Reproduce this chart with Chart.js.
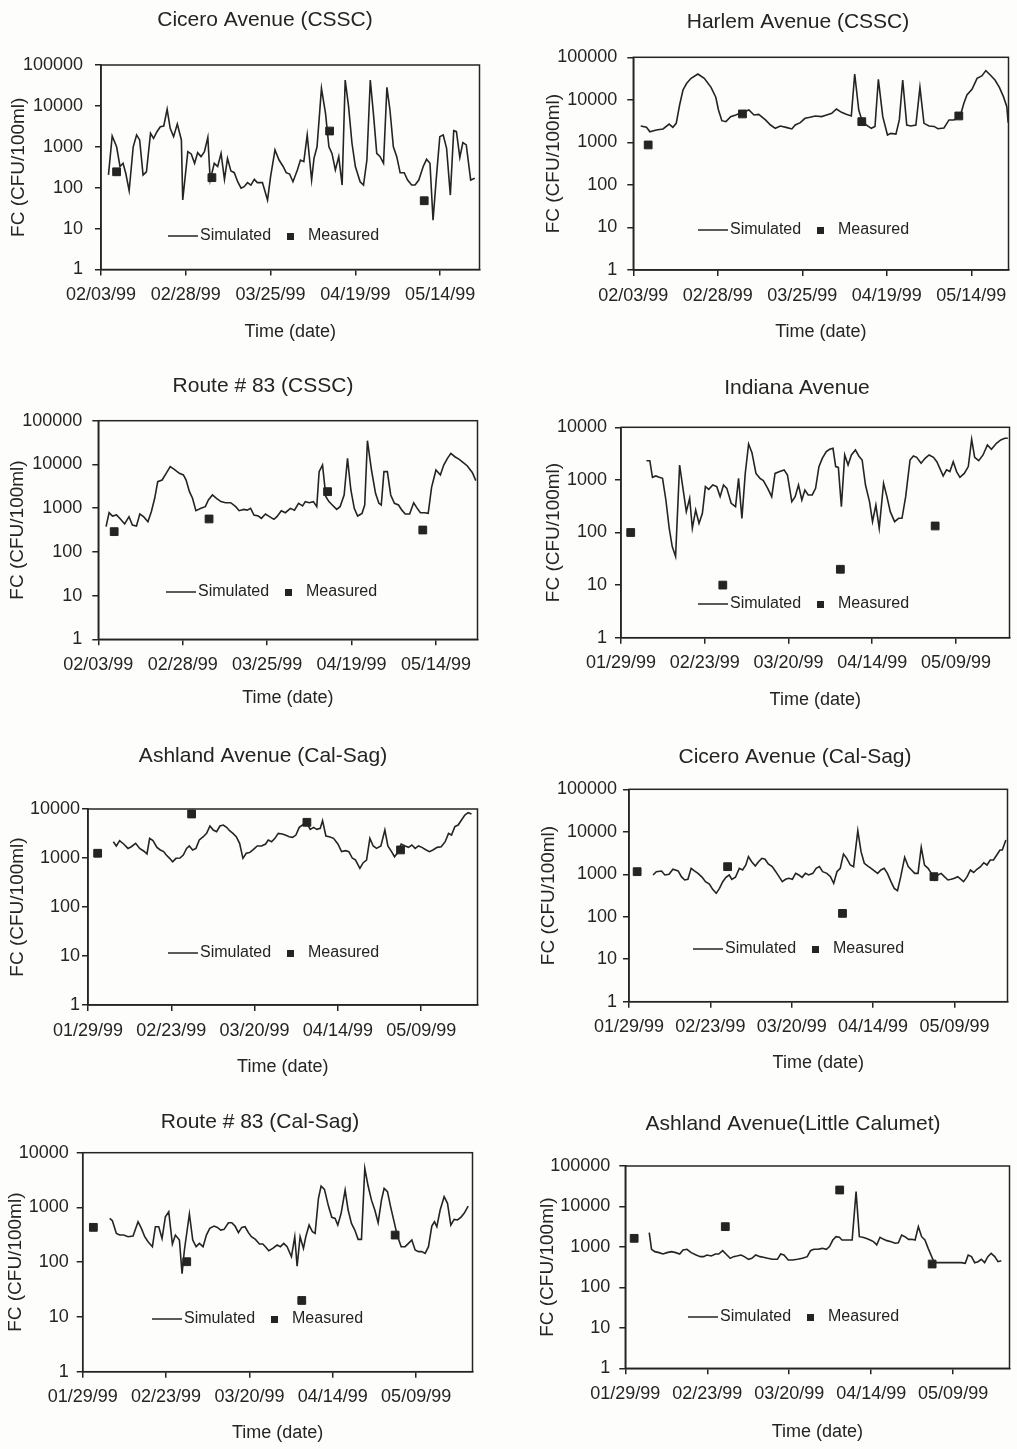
<!DOCTYPE html>
<html>
<head>
<meta charset="utf-8">
<script src="https://cdn.jsdelivr.net/npm/chart.js@4/dist/chart.umd.min.js"></script>
<style>
html, body { margin: 0; padding: 0; background: #fdfdfb; overflow: hidden; }
#page { position: relative; width: 1017px; height: 1449px; }
canvas { position: absolute; }
</style>
</head>
<body>
<div id="page"></div>
<script>
// tick labels
const cssc_ticks = ['02/03/99', '02/28/99', '03/25/99', '04/19/99', '05/14/99'];
const cal_ticks = ['01/29/99', '02/23/99', '03/20/99', '04/14/99', '05/09/99'];
const tick_days = [0, 25, 50, 75, 100];
const y_ticks = [1, 10, 100, 1000, 10000, 100000];

// Cicero Avenue (CSSC)
const sim_days1 = [2.2,3.3,4.6,5.6,6.5,7.3,8.3,9.5,10.5,11.4, 12.4,13.4,14.6,15.5,16.5,17.5,18.5,19.5,20.4,21.4,
  22.5,23.7,24.1,25.6,26.6,27.6,28.5,29.5,30.5,31.5, 32.2,33.4,34.4,35.4,36.4,37.3,38.3,39.3,40.3,41.3,
  42.2,43.2,44.2,45.2,46.1,47.6,49.1,50.0,51.3,52.5, 53.7,54.6,55.6,56.6,57.9,58.8,59.8,60.8,62.1,62.8,
  63.7,65.0,66.2,67.2,68.1,69.1,70.1,71.1,72.0,73.0, 74.0,75.0,76.4,77.4,78.4,79.4,80.4,81.3,82.3,83.3,
  84.3,85.2,86.2,87.2,88.2,89.4,90.4,91.6,92.6,93.7, 95.0,96.0,97.0,97.9,98.9,99.9,100.9,101.9,103.0,104.0,
  104.8,105.8,106.7,107.7,109.0,110.2];
const sim1 = [205,1840,1000,330,395,225,85,1000,1950,1470, 205,245,2140,1610,2340,3100,3230,8250,2830,1770,
  3600,1470,50,760,670,395,720,575,760,1700, 154,395,330,690,160,520,256,233,140,97,
  106,133,116,160,133,133,50,186,835,475, 330,233,216,140,271,475,433,1950,154,520,
  1000,26900,6580,1000,690,271,575,116,43000,9570, 1220,330,140,116,475,43000,5460,690,575,395,
  28400,7940,1000,575,233,233,154,116,116,154, 330,494,395,16,186,1770,1950,918,66,2480,
  2340,552,1260,1110,154,170];
const meas_days1 = [4.6, 32.7, 67.4, 95.3];
const meas1 = [245, 176, 2430, 48];

// Harlem Avenue (CSSC)
const sim_days2 = [2.2,3.9,4.9,6.8,8.8,10.6,11.7,12.7,13.7,14.7, 15.8,17.1,19.1,21.0,23.0,24.4,25.2,26.2,27.4,28.8,
  30.3,32.3,34.2,35.7,37.1,39.1,40.6,42.0,43.5,45.5, 46.9,47.9,49.4,50.8,52.3,53.8,55.7,57.2,58.7,60.1,
  61.6,63.0,64.5,65.5,66.7,67.6,68.9,70.4,71.5,72.5, 73.8,75.2,76.2,77.7,78.7,79.7,80.9,82.1,83.6,84.8,
  86.0,87.5,89.0,90.1,91.9,93.4,94.8,96.6,97.8,98.7, 100.2,101.7,103.1,104.3,105.6,107.0,108.3,109.5,110.5,110.9];
const sim2 = [2430,2260,1780,1950,2070,2700,2260,2800,7570,17060, 24500,32100,40500,32100,19700,11500,5780,3240,3070,4030,
  4400,5090,5780,4400,4560,3370,2560,2140,2430,2220, 2070,2560,2910,3680,3880,4180,4030,4400,4820,6100,
  5090,4560,4180,40500,5780,3370,2560,2140,2370,30400, 4030,1490,1630,1560,3370,29300,2560,2430,2560,19700,
  2800,2430,2370,2100,2180,3370,3370,3880,8280,13000, 17700,32100,36400,48700,38400,29300,19700,11900,6920,2910];
const meas_days2 = [4.4, 32.3, 67.6, 96.3];
const meas2 = [870, 4660, 3070, 4180];

// Route # 83 (CSSC)
const sim_days3 = [2.3,3.2,4.2,5.4,6.6,7.8,9.1,10.1,11.3,12.3, 13.4,14.7,15.7,16.7,17.6,18.9,20.1,21.3,22.5,24.0,
  25.2,26.0,27.0,27.9,28.9,30.4,31.7,32.6,33.8,35.0, 36.3,37.7,39.2,40.7,41.7,43.1,44.1,45.1,46.1,47.4,
  48.3,49.5,50.7,52.0,52.9,54.2,55.4,56.9,58.1,59.3, 60.5,61.3,62.5,63.7,64.7,65.4,66.4,67.4,68.3,69.3,
  70.6,71.6,72.8,73.8,74.8,75.8,76.8,78.1,78.9,79.7, 80.9,82.1,83.1,83.8,84.6,85.6,86.6,87.7,88.9,89.9,
  90.9,92.2,93.4,94.4,95.4,96.6,97.7,98.7,100.0,101.3, 102.3,103.4,104.4,105.6,106.9,108.1,109.3,110.8,111.8];
const sim3 = [377,787,660,697,555,434,638,411,390,734, 638,490,830,1680,4030,4400,6250,8870,7710,6250,
  5730,4400,2380,1680,875,990,1080,1540,2000,1680, 1410,1330,1330,1080,875,935,900,990,697,660,
  585,734,638,555,638,875,787,990,900,1290, 1130,1410,1330,1410,1080,6830,9680,1830,1410,1180,
  935,1080,2000,13800,2600,990,660,760,1180,34900, 7450,2180,1290,1180,6830,6830,2000,1290,1180,900,
  734,734,1330,1000,787,787,760,2990,7450,5730, 9680,13800,17900,15000,13100,11000,9200,6470,4250];
const meas_days3 = [4.7, 32.8, 67.9, 96.1];
const meas3 = [290, 565, 2380, 316];

// Indiana Avenue
const sim_days4 = [7.6,8.6,9.4,10.4,11.4,12.4,13.4,14.4,15.3,16.3, 17.5,18.5,19.5,20.5,21.3,22.3,23.3,24.3,25.2,26.2,
  27.4,28.6,29.6,30.6,31.6,32.9,34.2,35.1,36.1,37.1, 38.1,39.1,40.3,41.5,42.5,43.8,45.0,46.0,47.4,48.7,
  49.7,51.0,52.0,53.0,54.0,54.9,55.9,57.1,58.1,59.1, 60.1,61.3,62.3,63.3,64.1,64.9,65.8,66.8,67.8,68.8,
  70.0,71.0,72.0,73.0,74.2,75.1,76.1,77.1,78.4,79.4, 80.4,81.7,82.9,83.9,85.0,86.3,87.3,88.3,89.6,90.8,
  92.0,93.3,94.3,95.2,96.2,97.2,98.2,99.2,100.2,101.2, 102.5,103.7,104.7,105.6,106.8,108.1,109.4,110.6,112.1,113.4,
  114.6,115.5];
const sim4 = [2320,2320,1120,1190,1120,1070,415,120,54,35, 1920,692,249,447,120,268,149,231,745,662,
  800,745,480,800,692,359,310,1070,186,1330, 4820,3300,1330,1070,968,692,480,1330,1440,1550,
  1240,386,480,800,415,643,517,517,692,1790, 2570,3440,3820,3990,1790,1730,310,2980,1920,2980,
  3710,2850,2390,800,386,161,333,120,861,480, 249,161,186,186,480,2390,2850,2690,2070,2570,
  2980,2690,2220,1660,1190,1550,1440,2220,1440,1120, 1330,1790,5910,2690,2320,2980,4610,3820,4970,5740,
  6180,6180];
const meas_days4 = [2.9, 30.4, 65.5, 93.8];
const meas4 = [100, 10, 20, 133];

// Ashland Avenue (Cal-Sag)
const sim_days5 = [7.6,8.5,9.5,10.7,12.0,13.0,14.3,15.5,16.7,17.7, 18.5,19.5,20.7,21.7,22.7,23.5,24.5,25.4,26.4,27.6,
  28.6,29.6,30.4,31.4,32.4,33.4,34.6,35.6,36.6,37.6, 38.6,39.6,40.6,41.6,42.5,43.5,44.5,45.5,46.5,47.5,
  48.5,49.5,50.8,52.1,53.3,54.1,55.1,56.1,57.1,58.3, 59.2,60.4,61.4,62.4,63.4,64.4,65.4,66.7,67.7,68.7,
  69.7,70.4,71.4,72.4,73.7,75.0,76.1,77.3,78.3,79.3, 80.3,81.6,82.6,83.6,84.6,85.6,86.6,87.9,89.1,90.0,
  91.1,92.0,92.8,94.0,95.2,96.2,97.2,98.2,99.2,100.2, 101.5,102.5,103.5,104.8,106.0,107.2,108.2,109.1,110.1,111.1,
  112.1,113.1,114.1,115.1];
const sim5 = [2150,1760,2260,1930,1570,1700,1990,1570,1390,1210, 2520,2260,1650,1460,1350,1150,985,840,985,1000,
  1150,1570,1760,1460,1570,2330,2720,3180,4500,3720, 3440,4500,4710,4230,3610,3180,2720,1990,985,1250,
  1290,1460,1760,1760,1930,2330,2150,2520,3180,3090, 2940,2720,2640,2940,4230,4710,5510,3850,4230,3850,
  4030,5780,2810,2720,2520,1930,1350,1410,1350,1000, 910,615,803,910,2520,1760,1570,1760,3720,1760,
  1350,1060,1250,1930,1760,1650,1840,1570,1760,1650, 1460,1350,1460,1650,1700,2150,3180,2940,4370,4710,
  5970,7550,8410,7910];
const meas_days5 = [2.9, 31.1, 65.7, 93.8];
const meas5 = [1250, 7910, 5350, 1460];

// Cicero Avenue (Cal-Sag)
const sim_days6 = [7.4,8.4,10.0,11.0,12.3,13.5,15.1,16.1,17.1,18.1, 19.1,20.1,21.2,22.5,23.5,24.7,25.7,26.8,27.8,28.8,
  29.8,30.8,31.6,32.7,33.9,34.9,35.9,36.7,37.7,38.8, 39.8,40.8,41.8,42.8,44.0,45.1,46.1,47.1,48.1,49.1,
  50.2,51.2,52.2,53.2,54.2,55.2,56.5,57.5,58.5,59.5, 60.8,61.9,62.9,63.9,64.9,65.9,66.9,68.0,69.0,70.3,
  71.3,72.3,73.3,74.4,75.4,76.4,77.4,78.4,79.4,80.5, 81.5,82.5,83.5,84.7,85.8,86.8,87.8,88.8,89.8,90.8,
  91.9,92.9,93.9,94.9,95.9,96.9,98.0,99.0,100.0,101.0, 102.0,102.8,103.9,104.9,105.9,106.9,108.0,109.0,110.0,111.0,
  112.0,113.0,114.0,114.7,115.8];
const sim6 = [961,1150,1190,961,1000,1310,1200,877,733,760, 1380,1200,1050,848,670,590,442,356,466,670,
  848,961,760,848,1380,1260,1650,2600,1980,1570, 1980,2370,2250,1750,1510,1150,877,670,760,802,
  760,1050,961,848,1050,961,1050,1380,1510,1150, 1050,877,611,1150,1380,3000,2370,1650,1510,10640,
  3400,1810,1570,1380,1200,1050,1260,1380,1050,670, 466,411,877,2510,1510,1260,1050,1050,4300,1650,
  1380,1050,733,961,1050,877,733,760,802,877, 760,670,877,1260,1100,1310,1510,1870,1650,2170,
  2170,2840,3720,3720,6410];
const meas_days6 = [2.5, 30.3, 65.6, 93.7];
const meas6 = [1150, 1510, 120, 877];

// Route # 83 (Cal-Sag)
const sim_days7 = [8.1,8.9,10.1,11.1,12.3,13.6,15.1,16.6,17.6,18.6, 19.6,20.9,21.8,22.8,23.8,24.8,25.8,26.9,27.8,29.0,
  29.8,30.5,32.0,33.0,34.0,35.0,36.1,37.1,38.1,39.4, 40.4,41.4,42.4,43.7,44.7,45.7,46.7,47.7,48.7,49.7,
  50.6,51.8,53.0,54.0,54.8,55.8,57.0,58.3,59.3,60.3, 61.3,62.6,63.6,64.3,65.2,66.2,66.9,67.9,68.9,69.7,
  70.7,71.5,72.5,73.7,74.7,75.7,76.5,77.5,78.7,79.6, 80.6,81.6,82.6,83.6,84.6,85.6,86.6,87.6,88.6,89.6,
  90.4,91.4,92.3,93.5,94.3,95.5,96.7,97.7,98.7,99.7, 100.7,101.7,102.7,103.7,104.7,105.5,106.2,107.2,108.4,109.4,
  110.4,111.4,112.4,113.4,114.4,115.6];
const sim7 = [632,573,336,313,313,292,300,549,415,292, 237,192,444,444,272,678,835,215,313,254,
  62,167,759,254,192,221,192,313,415,457, 432,387,398,526,526,457,346,432,444,346,
  292,261,215,215,192,162,179,206,192,221, 192,126,292,85,292,179,292,477,360,336,
  1470,2460,2140,1060,660,632,477,780,2080,897, 512,387,261,261,5180,2460,1360,897,526,1360,
  2230,1940,1060,512,313,192,192,221,254,167, 156,156,145,192,457,549,444,897,1570,1190,
  477,605,590,660,780,1060];
const meas_days7 = [3.2, 31.2, 65.7, 93.7];
const meas7 = [433, 102, 20, 313];

// Ashland Avenue (Little Calumet)
const sim_days8 = [7.3,8.0,9.0,10.3,11.5,12.7,14.1,15.4,16.6,17.6, 18.8,20.1,21.6,22.9,23.9,24.9,26.2,27.5,28.5,29.7,
  30.7,32.0,33.0,34.0,35.3,36.3,37.6,38.6,39.8,41.1, 42.1,43.4,44.9,46.4,47.4,48.4,49.7,51.0,52.5,54.0,
  55.5,56.5,57.5,58.8,60.1,61.3,62.3,63.3,64.3,65.3, 66.1,67.1,68.1,69.2,70.4,71.4,72.4,73.4,74.7,75.7,
  76.7,77.7,78.8,79.8,81.1,82.3,83.3,84.3,85.3,86.4, 87.4,88.4,89.4,90.4,91.4,92.4,93.9,94.9,96.5,98.5,
  100.5,102.5,103.7,104.6,105.6,106.6,107.6,108.6,109.6,110.6, 111.6,112.7,113.7,114.7];
const sim8 = [2250,873,764,722,668,722,764,722,668,839, 873,722,631,575,575,631,597,668,668,809,
  668,522,575,597,631,575,494,522,631,575, 553,522,494,494,668,631,475,475,494,522,
  575,809,873,873,922,873,1020,1480,1790,1730, 1480,1480,1480,1480,23200,1790,1730,1630,1480,1350,
  1120,1730,1540,1430,1350,1230,1270,1970,1790,1540, 1540,1480,3170,1790,1480,922,475,408,408,408,
  408,408,394,631,575,408,432,494,408,575, 695,575,432,458];
const meas_days8 = [2.7, 30.5, 65.4, 93.6];
const meas8 = [1630, 3170, 25500, 378];

const INK = '#242424';
const FONT = '"Liberation Sans", Arial, sans-serif';
Chart.defaults.font.family = FONT;
Chart.defaults.color = INK;

// page placement of each panel (plot box, title, axis titles, legend)
const panels = [
  { title: 'Cicero Avenue (CSSC)', labels: cssc_ticks, days: sim_days1, sim: sim1, mdays: meas_days1, meas: meas1,
    yMax: 100000, xMax: 111.6, L: 101, R: 481.7, T: 65, B: 269.5, yT: 18, tx: 265, ty: 20, xT: 332, lx: 168, ly: 236, yPad: 12 },
  { title: 'Harlem Avenue (CSSC)', labels: cssc_ticks, days: sim_days2, sim: sim2, mdays: meas_days2, meas: meas2,
    yMax: 100000, xMax: 111.0, L: 633.3, R: 1011.7, T: 57.3, B: 270, yT: 553, tx: 798, ty: 22, xT: 332, lx: 698, ly: 230, yPad: 10 },
  { title: 'Route # 83 (CSSC)', labels: cssc_ticks, days: sim_days3, sim: sim3, mdays: meas_days3, meas: meas3,
    yMax: 100000, xMax: 112.3, L: 98.3, R: 480, T: 420.7, B: 639.3, yT: 17, tx: 263, ty: 386, xT: 698, lx: 166, ly: 592, yPad: 10 },
  { title: 'Indiana Avenue', labels: cal_ticks, days: sim_days4, sim: sim4, mdays: meas_days4, meas: meas4,
    yMax: 10000, xMax: 116.0, L: 621, R: 1011.7, T: 427.3, B: 637.7, yT: 553, tx: 797, ty: 388, xT: 700, lx: 698, ly: 604, yPad: 8 },
  { title: 'Ashland Avenue (Cal-Sag)', labels: cal_ticks, days: sim_days5, sim: sim5, mdays: meas_days5, meas: meas5,
    yMax: 10000, xMax: 116.9, L: 88, R: 480, T: 809, B: 1005, yT: 17, tx: 263, ty: 756, xT: 1067, lx: 168, ly: 953, yPad: 2 },
  { title: 'Cicero Avenue (Cal-Sag)', labels: cal_ticks, days: sim_days6, sim: sim6, mdays: meas_days6, meas: meas6,
    yMax: 100000, xMax: 116.3, L: 629, R: 1010, T: 789.3, B: 1001.7, yT: 548, tx: 795, ty: 757, xT: 1063, lx: 693, ly: 949, yPad: 6 },
  { title: 'Route # 83 (Cal-Sag)', labels: cal_ticks, days: sim_days7, sim: sim7, mdays: meas_days7, meas: meas7,
    yMax: 10000, xMax: 116.9, L: 82.7, R: 475, T: 1152.7, B: 1371.7, yT: 15, tx: 260, ty: 1122, xT: 1433, lx: 152, ly: 1319, yPad: 8 },
  { title: 'Ashland Avenue(Little Calumet)', labels: cal_ticks, days: sim_days8, sim: sim8, mdays: meas_days8, meas: meas8,
    yMax: 100000, xMax: 117.2, L: 625.3, R: 1011.7, T: 1166, B: 1368.3, yT: 547, tx: 793, ty: 1124, xT: 1432, lx: 688, ly: 1317, yPad: 9 }
];

// frame, title and in-plot legend
const decor = {
  id: 'decor',
  afterDraw(chart, args, o) {
    const { ctx, chartArea: a } = chart;
    ctx.save();
    ctx.strokeStyle = INK;
    ctx.fillStyle = INK;
    ctx.lineWidth = 1.5;
    ctx.strokeRect(a.left, a.top, a.right - a.left, a.bottom - a.top);
    ctx.font = '21px ' + FONT;
    ctx.textAlign = 'center';
    ctx.textBaseline = 'middle';
    ctx.fillText(o.title, o.tx, o.ty);
    ctx.beginPath();
    ctx.moveTo(o.lx, o.ly);
    ctx.lineTo(o.lx + 30, o.ly);
    ctx.stroke();
    ctx.font = '16px ' + FONT;
    ctx.textAlign = 'left';
    ctx.fillText('Simulated', o.lx + 32, o.ly);
    ctx.fillRect(o.lx + 119, o.ly - 3, 7, 7);
    ctx.fillText('Measured', o.lx + 140, o.ly);
    ctx.restore();
  }
};

function makePanel(p) {
  const cl = Math.round(p.yT - 13.4);
  const ct = Math.round(p.ty - 16);
  const cw = Math.round(p.R - cl + 4);
  const ch = Math.round(p.xT + 12.8 - ct);
  const wy = p.L - cl;
  const hx = ch - (p.B - ct);

  const canvas = document.createElement('canvas');
  canvas.width = cw;
  canvas.height = ch;
  canvas.style.left = cl + 'px';
  canvas.style.top = ct + 'px';
  document.getElementById('page').appendChild(canvas);

  const gridOpts = { display: true, drawOnChartArea: false, drawTicks: true, tickLength: 6, color: INK, lineWidth: 1.5 };
  const borderOpts = { display: true, color: INK, width: 1.5 };

  new Chart(canvas, {
    type: 'line',
    data: {
      datasets: [
        {
          label: 'Simulated',
          data: p.days.map((d, i) => ({ x: d, y: p.sim[i] })),
          borderColor: INK,
          borderWidth: 1.6,
          pointRadius: 0,
          tension: 0,
          fill: false
        },
        {
          label: 'Measured',
          data: p.mdays.map((d, i) => ({ x: d, y: p.meas[i] })),
          showLine: false,
          pointStyle: 'rect',
          pointRadius: 5.5,
          pointBackgroundColor: INK,
          pointBorderColor: INK,
          pointBorderWidth: 1
        }
      ]
    },
    options: {
      responsive: false,
      animation: false,
      devicePixelRatio: 1,
      layout: { padding: { top: p.T - ct, left: 0, right: 4, bottom: 0 } },
      plugins: {
        legend: { display: false },
        tooltip: { enabled: false },
        decor: { title: p.title, tx: p.tx - cl, ty: p.ty - ct, lx: p.lx - cl, ly: p.ly - ct }
      },
      scales: {
        x: {
          type: 'linear',
          min: 0,
          max: p.xMax,
          afterBuildTicks: s => { s.ticks = tick_days.map(v => ({ value: v })); },
          afterFit: s => { s.height = hx; },
          ticks: {
            autoSkip: false, maxRotation: 0, padding: 9, font: { size: 18 }, color: INK,
            callback: v => p.labels[tick_days.indexOf(v)]
          },
          grid: gridOpts,
          border: borderOpts,
          title: { display: true, text: 'Time (date)', font: { size: 18 }, color: INK, padding: { top: 0, bottom: 2 } }
        },
        y: {
          type: 'logarithmic',
          min: 1,
          max: p.yMax,
          afterBuildTicks: s => { s.ticks = y_ticks.filter(v => v <= p.yMax).map(v => ({ value: v })); },
          afterFit: s => { s.width = wy; },
          ticks: { autoSkip: false, padding: p.yPad, font: { size: 18 }, color: INK, callback: v => String(v) },
          grid: gridOpts,
          border: borderOpts,
          title: { display: true, text: 'FC (CFU/100ml)', font: { size: 19 }, color: INK, padding: { top: 2, bottom: 0 } }
        }
      }
    },
    plugins: [decor]
  });
}

panels.forEach(makePanel);
</script>
</body>
</html>
